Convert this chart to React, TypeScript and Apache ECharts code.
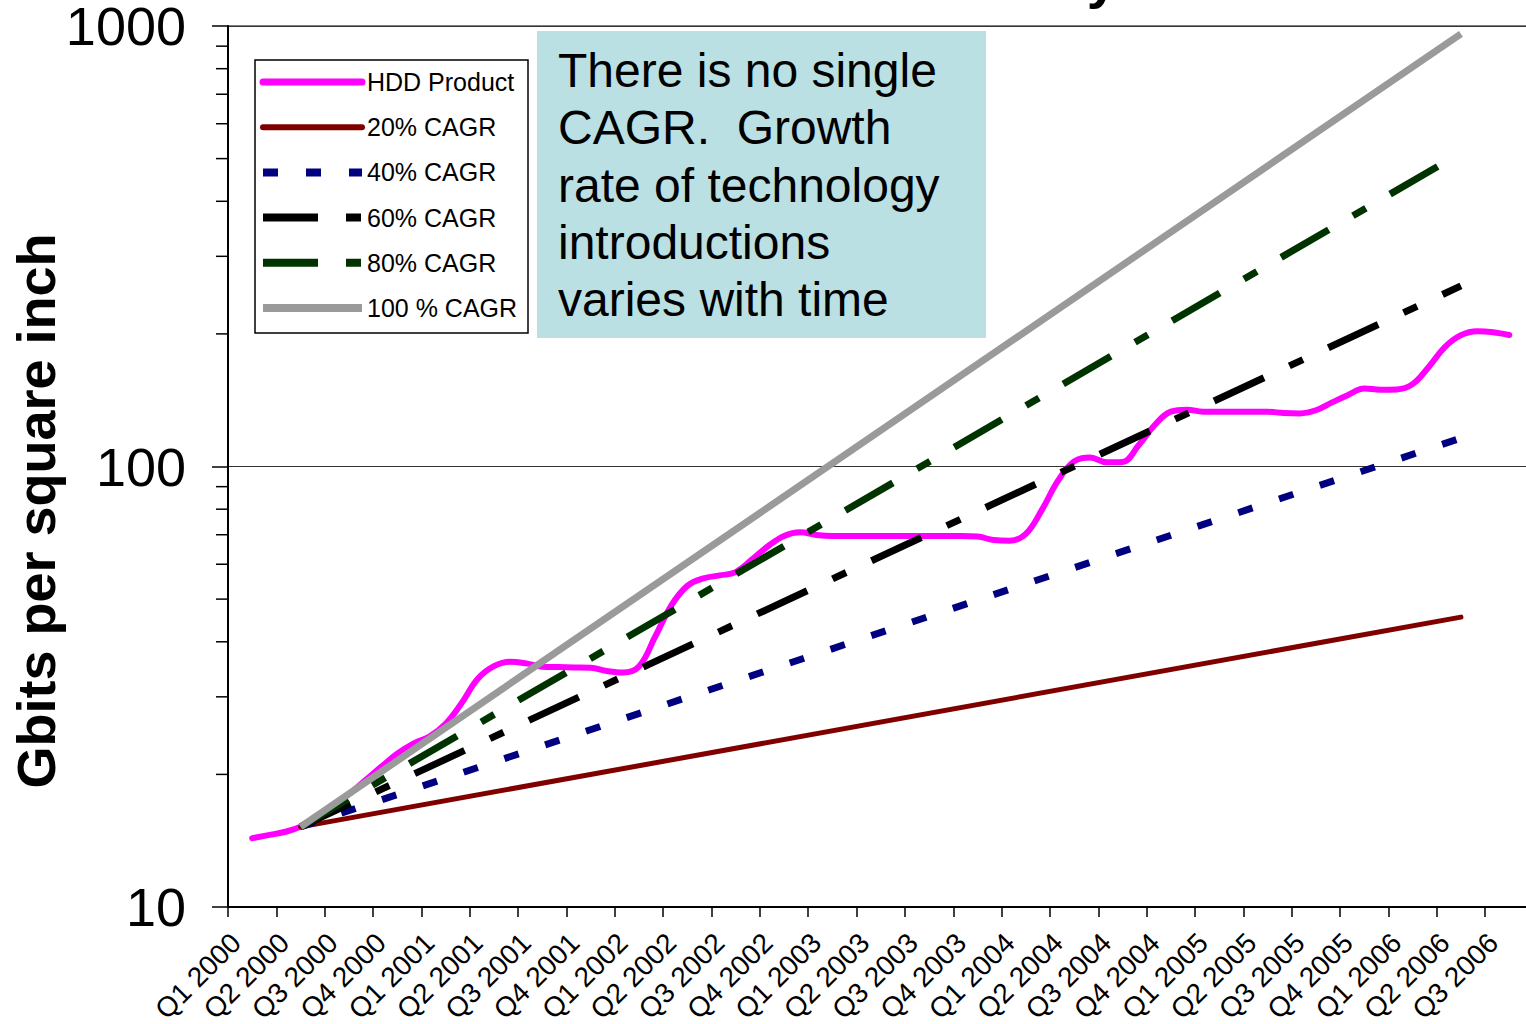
import React, { useEffect, useRef } from "react";
import * as echarts from "echarts";

// ---------- data ----------
const quarterLabels = [
  "Q1 2000", "Q2 2000", "Q3 2000", "Q4 2000",
  "Q1 2001", "Q2 2001", "Q3 2001", "Q4 2001",
  "Q1 2002", "Q2 2002", "Q3 2002", "Q4 2002",
  "Q1 2003", "Q2 2003", "Q3 2003", "Q4 2003",
  "Q1 2004", "Q2 2004", "Q3 2004", "Q4 2004",
  "Q1 2005", "Q2 2005", "Q3 2005", "Q4 2005",
  "Q1 2006", "Q2 2006", "Q3 2006",
];

// HDD product areal density, monthly, starting at month index 1 (Feb 2000)
const hddStartMonth = 1;
const hddValues = [
  14.33, 14.56, 14.8, 15.22, 16.09, 17.0, 18.03, 19.36, 20.8, 22.28,
  23.5, 24.38, 26.06, 29.05, 32.98, 35.21, 36.05, 35.73, 35.12, 35.04,
  34.99, 34.91, 34.34, 34.07, 35.16, 41.07, 48.33, 53.57, 55.72, 56.59,
  57.58, 61.44, 65.91, 69.58, 70.9, 69.94, 69.54, 69.54, 69.54, 69.54,
  69.54, 69.54, 69.54, 69.54, 69.54, 69.36, 68.1, 67.85, 70.3, 79.72,
  92.88, 102.7, 104.8, 102.2, 102.4, 111.7, 124.2, 133.2, 134.6, 133.2,
  133.1, 133.1, 133.1, 133.1, 132.3, 132.0, 134.2, 139.8, 145.4, 150.4,
  149.4, 149.6, 153.8, 168.3, 186.7, 198.7, 202.9, 201.8, 198.8,
];

// CAGR reference lines: value at start month and at end month
const cagrStartMonth = 4;
const cagrEndMonth = 76;
const cagrStartValue = 15.2;
const cagr20End = 45.5;
const cagr40End = 116;
const cagr60End = 257;
const cagr80End = 515;
const cagr100End = 960;

const seriesNames = [
  "HDD Product",
  "20% CAGR",
  "40% CAGR",
  "60% CAGR",
  "80% CAGR",
  "100 % CAGR",
];

const minorTickValues = [20, 30, 40, 50, 60, 70, 80, 90, 200, 300, 400, 500, 600, 700, 800, 900];

const boxLines = [
  "There is no single",
  "CAGR.  Growth",
  "rate of technology",
  "introductions",
  "varies with time",
];

// ---------- styles ----------
const seriesStyles = [
  { color: "#FF00FF", width: 6, dash: null as number[] | null, cap: "round" },
  { color: "#800000", width: 5, dash: null as number[] | null, cap: "round" },
  { color: "#000080", width: 7, dash: [15, 28], cap: "butt" },
  { color: "#000000", width: 7, dash: [55, 28, 15, 28], cap: "butt" },
  { color: "#003300", width: 7, dash: [55, 28, 15, 28], cap: "butt" },
  { color: "#9a9a9a", width: 7, dash: null as number[] | null, cap: "butt" },
];

// ---------- derived ----------
const monthCategories: string[] = quarterLabels.flatMap((q) => [q, `${q}.2`, `${q}.3`]);
const nMonths = monthCategories.length;

function hddData() {
  const arr: (number | null)[] = new Array(nMonths).fill(null);
  hddValues.forEach((v, i) => {
    arr[hddStartMonth + i] = v;
  });
  return arr;
}
function cagrData(endValue: number) {
  const arr: (number | null)[] = new Array(nMonths).fill(null);
  arr[cagrStartMonth] = cagrStartValue;
  arr[cagrEndMonth] = endValue;
  return arr;
}

const FONT = 'Arial, "Liberation Sans", Helvetica, sans-serif';

export default function App() {
  const ref = useRef<HTMLDivElement>(null);

  useEffect(() => {
    if (!ref.current) return;
    const chart = echarts.init(ref.current, null, { renderer: "svg" });

    const monthWidth = 16.117;
    const gridLeft = 228;
    const gridWidth = monthWidth * nMonths;

    const allData = [
      hddData(),
      cagrData(cagr20End),
      cagrData(cagr40End),
      cagrData(cagr60End),
      cagrData(cagr80End),
      cagrData(cagr100End),
    ];

    const lineSeries = seriesNames.map((name, i) => {
      const s = seriesStyles[i];
      const ls: any = { color: s.color, width: s.width, cap: s.cap, join: "round" };
      if (s.dash) ls.type = s.dash;
      return {
        name,
        type: "line",
        data: allData[i],
        symbol: "none",
        showSymbol: false,
        smooth: i === 0 ? 0.4 : false,
        connectNulls: i !== 0,
        lineStyle: ls,
        itemStyle: { color: s.color },
        z: 2 + i,
      };
    });

    // hand-drawn legend (box, line samples, labels)
    const legendX = 255;
    const legendY = 60;
    const legendItems: any[] = [
      {
        type: "rect",
        shape: { x: legendX, y: legendY, width: 273, height: 273 },
        style: { fill: "#fff", stroke: "#000", lineWidth: 1.5 },
        z: 20,
      },
    ];
    seriesNames.forEach((name, i) => {
      const s = seriesStyles[i];
      const cy = 82 + 45.2 * i;
      const style: any = {
        stroke: s.color,
        lineWidth: s.width + 1,
        lineCap: s.cap,
      };
      if (s.dash) style.lineDash = s.dash;
      legendItems.push({
        type: "line",
        shape: { x1: 263, y1: cy, x2: 362, y2: cy },
        style,
        z: 21,
      });
      legendItems.push({
        type: "text",
        x: 367,
        y: cy,
        z: 21,
        style: {
          text: name,
          fontSize: 25,
          fontFamily: FONT,
          fill: "#000",
          align: "left",
          verticalAlign: "middle",
        },
      });
    });

    const option: any = {
      animation: false,
      backgroundColor: "#ffffff",
      grid: {
        left: gridLeft,
        top: 26,
        width: gridWidth,
        height: 881,
        containLabel: false,
        outerBoundsMode: "none",
        show: true,
        borderColor: "#808080",
        borderWidth: 2,
        backgroundColor: "transparent",
      },
      xAxis: {
        type: "category",
        data: monthCategories,
        boundaryGap: true,
        axisLine: { show: true, lineStyle: { color: "#000", width: 2 } },
        axisTick: { show: true, interval: 2, length: 10, lineStyle: { color: "#000", width: 1.5 } },
        axisLabel: {
          interval: 2,
          rotate: 45,
          margin: 31,
          fontSize: 28,
          color: "#000",
          fontFamily: FONT,
        },
        splitLine: { show: false },
      },
      yAxis: {
        type: "log",
        logBase: 10,
        min: 10,
        max: 1000,
        axisLine: { show: true, lineStyle: { color: "#000", width: 2 } },
        axisTick: { show: true, length: 16, lineStyle: { color: "#000", width: 1.5 } },
        axisLabel: {
          margin: 42,
          fontSize: 54,
          color: "#000",
          fontFamily: FONT,
          formatter: (v: number) => String(Math.round(v)),
        },
        splitLine: { show: true, lineStyle: { color: "#333", width: 1 } },
        minorTick: { show: false },
      },
      series: [
        ...lineSeries,
        {
          type: "custom",
          coordinateSystem: "cartesian2d",
          silent: true,
          clip: false,
          data: minorTickValues.map((v) => [0, v]),
          encode: { x: 0, y: 1 },
          renderItem: (_params: any, api: any) => {
            const v = api.value(1);
            const p0 = api.coord([0, v]);
            const p1 = api.coord([1, v]);
            const axisX = p0[0] - (p1[0] - p0[0]) / 2;
            return {
              type: "line",
              shape: { x1: axisX - 12, y1: p0[1], x2: axisX, y2: p0[1] },
              style: { stroke: "#000", lineWidth: 1.5 },
            };
          },
          z: 1,
        },
      ],
      graphic: [
        {
          type: "rect",
          shape: { x: 537, y: 31, width: 449, height: 307 },
          style: { fill: "#BAE0E3" },
          z: 10,
        },
        {
          type: "text",
          x: 558,
          y: 42,
          z: 11,
          style: {
            text: boxLines.join("\n"),
            fontSize: 48,
            lineHeight: 57.2,
            fontFamily: FONT,
            fill: "#000",
            align: "left",
            verticalAlign: "top",
          },
        },
        ...legendItems,
        {
          type: "text",
          x: 36,
          y: 511,
          rotation: Math.PI / 2,
          z: 11,
          style: {
            text: "Gbits per square inch",
            fontSize: 54,
            fontWeight: "bold",
            fontFamily: FONT,
            fill: "#000",
            align: "center",
            verticalAlign: "middle",
          },
        },
        {
          type: "text",
          x: 1118,
          y: 5,
          z: 11,
          style: {
            text: "Areal Density",
            fontSize: 56,
            fontWeight: "bold",
            fontFamily: FONT,
            fill: "#000",
            align: "right",
            verticalAlign: "bottom",
          },
        },
      ],
    };

    chart.setOption(option);
    return () => {
      chart.dispose();
    };
  }, []);

  return (
    <div
      ref={ref}
      style={{ position: "fixed", left: 0, top: 0, width: 1526, height: 1024, background: "#fff" }}
    />
  );
}
